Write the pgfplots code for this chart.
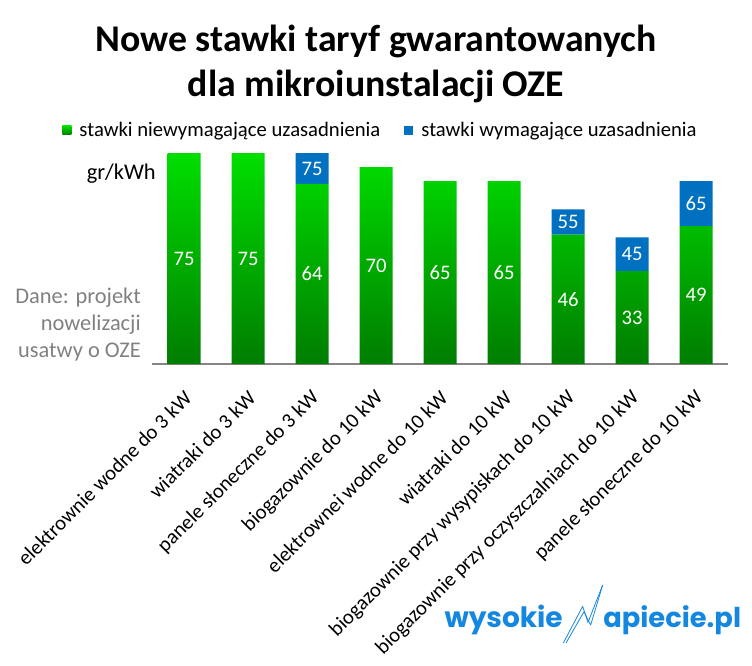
\documentclass[border=0pt]{standalone}
\usepackage{pgfplots}
\pgfplotsset{compat=1.18}
\usepackage{pgfplotstable}
\usepackage{fontspec}
\setmainfont{Carlito}
\newfontfamily\logofont{Poppins}
\definecolor{gtop}{RGB}{0,222,0}
\definecolor{gbot}{RGB}{0,125,0}
\definecolor{bblue}{RGB}{0,112,192}
\definecolor{axgray}{RGB}{134,134,134}
\definecolor{txtgray}{RGB}{128,128,128}
\definecolor{logoblue}{RGB}{20,135,225}
\pgfplotstableread{
x g b glab blab
0 75 0 75 {}
1 75 0 75 {}
2 64 11 64 75
3 70 0 70 {}
4 65 0 65 {}
5 65 0 65 {}
6 46 9 46 55
7 33 12 33 45
8 49 16 49 65
}\data
\begin{document}
\begin{tikzpicture}
\path[use as bounding box] (0,0) rectangle (564pt,498.75pt);
\begin{axis}[
  at={(114pt,225.75pt)}, anchor=south west,
  scale only axis, width=432pt, height=158.25pt,
  xmin=-0.5, xmax=8.5, ymin=0, ymax=75,
  ybar stacked, bar width=24.75pt,
  axis x line*=bottom, axis y line=none,
  x axis line style={draw=axgray, line width=1.1pt, -},
  xtick={0,...,8},
  xticklabels={elektrownie wodne do 3 kW, wiatraki do 3 kW, panele słoneczne do 3 kW, biogazownie do 10 kW, elektrownei wodne do 10 kW, wiatraki do 10 kW, biogazownie przy wysypiskach do 10 kW, biogazownie przy oczyszczalniach do 10 kW, panele słoneczne do 10 kW},
  major tick length=0pt,
  xticklabel style={rotate=45, anchor=east, inner sep=0pt, xshift=-14pt, yshift=-18.5pt, font=\fontsize{15.5}{17}\selectfont},
  ytick=\empty,
  clip=false,
  legend columns=2,
  legend style={at={(-0.156,1.107)}, anchor=west, draw=none, fill=none, inner sep=0pt,
    font=\fontsize{15.5}{17}\selectfont,
    nodes={inner sep=0pt},
    /tikz/every odd column/.append style={column sep=6pt},
    /tikz/every even column/.append style={column sep=18pt}},
  legend cell align=left,
]
\addplot[draw=none, top color=gtop, bottom color=gbot,
  nodes near coords, point meta=explicit symbolic,
  every node near coord/.append style={anchor=center, text=white, font=\fontsize{15.5}{17}\selectfont},
  legend image code/.code={\shade[top color=gtop, bottom color=gbot] (0pt,-3.4pt) rectangle (6.8pt,3.4pt);}]
  table[x=x, y=g, meta=glab] {\data};
\addlegendentry{stawki niewymagające uzasadnienia}
\addplot[draw=none, fill=bblue,
  nodes near coords, point meta=explicit symbolic,
  every node near coord/.append style={anchor=center, text=white, font=\fontsize{15.5}{17}\selectfont},
  legend image code/.code={\fill[bblue] (0pt,-3.4pt) rectangle (6.8pt,3.4pt);}]
  table[x=x, y=b, meta=blab] {\data};
\addlegendentry{stawki wymagające uzasadnienia}
\end{axis}
% title
\node[anchor=base, font=\fontsize{28.3}{30}\selectfont\bfseries] at (282pt,459.75pt) {Nowe stawki taryf gwarantowanych};
\node[anchor=base, font=\fontsize{28.3}{30}\selectfont\bfseries] at (282pt,426pt) {dla mikroiunstalacji OZE};
% unit
\node[anchor=base east, inner sep=0pt, font=\fontsize{16.8}{18}\selectfont] at (117pt,363.75pt) {gr/kWh};
% source
\node[anchor=base east, inner sep=0pt, text=txtgray, font=\fontsize{16.8}{18}\selectfont] at (105.75pt,271.5pt) {Dane: projekt};
\node[anchor=base east, inner sep=0pt, text=txtgray, font=\fontsize{16.8}{18}\selectfont] at (105.75pt,251.25pt) {nowelizacji};
\node[anchor=base east, inner sep=0pt, text=txtgray, font=\fontsize{16.8}{18}\selectfont] at (105.75pt,231pt) {usatwy o OZE};
% logo
\node[anchor=base east, inner sep=0pt, text=logoblue, font=\logofont\bfseries\fontsize{21}{22}\selectfont] at (422.25pt,28.5pt) {wysokie};
\node[anchor=base west, inner sep=0pt, text=logoblue, font=\logofont\bfseries\fontsize{20.5}{22}\selectfont] at (452.25pt,28.5pt) {apiecie.pl};
\draw[logoblue, line width=0.6pt, line join=round] (422.5pt,16.5pt) -- (437pt,44pt) -- (441pt,32pt) -- (452pt,60pt);
\draw[logoblue, line width=0.6pt, line join=round] (424.5pt,16.5pt) -- (438pt,40pt) -- (443pt,30pt) -- (452pt,60pt);
\end{tikzpicture}
\end{document}
